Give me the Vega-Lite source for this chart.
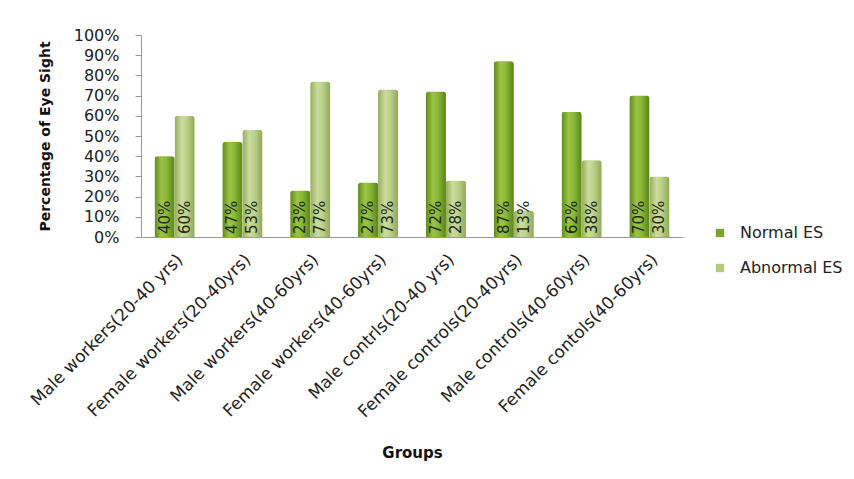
{
  "$schema": "https://vega.github.io/schema/vega-lite/v6.json",
  "autosize": "none",
  "width": 542,
  "height": 202,
  "padding": {"left": 141, "top": 35, "right": 171, "bottom": 242},
  "background": "white",
  "config": {
    "view": {"stroke": null},
    "font": "DejaVu Sans",
    "axis": {"labelFont": "DejaVu Sans", "titleFont": "DejaVu Sans", "labelColor": "#222", "titleColor": "#111"},
    "legend": {"labelFont": "DejaVu Sans"}
  },
  "data": {
    "values": [
      {"group": "Male workers(20-40 yrs)", "series": "Normal ES", "value": 40},
      {"group": "Male workers(20-40 yrs)", "series": "Abnormal ES", "value": 60},
      {"group": "Female workers(20-40yrs)", "series": "Normal ES", "value": 47},
      {"group": "Female workers(20-40yrs)", "series": "Abnormal ES", "value": 53},
      {"group": "Male workers(40-60yrs)", "series": "Normal ES", "value": 23},
      {"group": "Male workers(40-60yrs)", "series": "Abnormal ES", "value": 77},
      {"group": "Female workers(40-60yrs)", "series": "Normal ES", "value": 27},
      {"group": "Female workers(40-60yrs)", "series": "Abnormal ES", "value": 73},
      {"group": "Male contrls(20-40 yrs)", "series": "Normal ES", "value": 72},
      {"group": "Male contrls(20-40 yrs)", "series": "Abnormal ES", "value": 28},
      {"group": "Female controls(20-40yrs)", "series": "Normal ES", "value": 87},
      {"group": "Female controls(20-40yrs)", "series": "Abnormal ES", "value": 13},
      {"group": "Male controls(40-60yrs)", "series": "Normal ES", "value": 62},
      {"group": "Male controls(40-60yrs)", "series": "Abnormal ES", "value": 38},
      {"group": "Female contols(40-60yrs)", "series": "Normal ES", "value": 70},
      {"group": "Female contols(40-60yrs)", "series": "Abnormal ES", "value": 30}
    ]
  },
  "encoding": {
    "x": {
      "field": "group", "type": "nominal", "sort": null,
      "scale": {"paddingInner": 0.41, "paddingOuter": 0.2},
      "axis": {
        "title": "Groups", "titleFontSize": 15, "titleFontWeight": "bold", "titlePadding": 25,
        "labelAngle": -45, "labelFontSize": 17, "labelPadding": 14,
        "domainColor": "#999", "ticks": false, "labelLimit": 400
      }
    },
    "xOffset": {"field": "series", "type": "nominal", "sort": ["Normal ES", "Abnormal ES"]},
    "y": {
      "field": "value", "type": "quantitative",
      "scale": {"domain": [0, 100]},
      "axis": {
        "title": "Percentage of Eye Sight", "titleFontSize": 14, "titleFontWeight": "bold", "titlePadding": 21,
        "values": [0, 10, 20, 30, 40, 50, 60, 70, 80, 90, 100],
        "labelExpr": "datum.value + '%'", "labelFontSize": 16, "labelPadding": 16,
        "grid": false, "domainColor": "#999", "tickColor": "#999", "tickSize": 6
      }
    }
  },
  "layer": [
    {
      "mark": {"type": "bar", "cornerRadiusTopLeft": 3, "cornerRadiusTopRight": 3},
      "encoding": {
        "color": {
          "field": "series", "type": "nominal",
          "scale": {"domain": ["Normal ES", "Abnormal ES"], "range": ["#7aa52c", "#b3c97c"]},
          "sort": ["Normal ES", "Abnormal ES"],
          "legend": {
            "title": null, "orient": "none", "legendX": 571, "legendY": 190,
            "labelFontSize": 16, "labelColor": "#222", "symbolType": "square", "symbolSize": 70,
            "rowPadding": 19, "labelOffset": 12
          }
        }
      }
    },
    {
      "transform": [{"filter": "datum.series == 'Normal ES'"}],
      "mark": {"type": "bar", "cornerRadiusTopLeft": 3, "cornerRadiusTopRight": 3,
        "color": {"gradient": "linear", "x1": 0, "x2": 1, "y1": 0, "y2": 0, "stops": [
          {"offset": 0, "color": "#5f8a1c"}, {"offset": 0.35, "color": "#9cc445"}, {"offset": 0.6, "color": "#8ab838"}, {"offset": 1, "color": "#5a8418"}]}},
      "encoding": {}
    },
    {
      "transform": [{"filter": "datum.series == 'Abnormal ES'"}],
      "mark": {"type": "bar", "cornerRadiusTopLeft": 3, "cornerRadiusTopRight": 3,
        "color": {"gradient": "linear", "x1": 0, "x2": 1, "y1": 0, "y2": 0, "stops": [
          {"offset": 0, "color": "#93ad5c"}, {"offset": 0.35, "color": "#cbdc9e"}, {"offset": 0.6, "color": "#bcd28a"}, {"offset": 1, "color": "#8fa858"}]}},
      "encoding": {}
    },
    {
      "mark": {"type": "text", "angle": -90, "align": "left", "baseline": "middle", "fontSize": 15, "color": "#1e2a10", "dx": 3,
        "text": {"expr": "datum.value + '%'"}},
      "encoding": {
        "y": {"datum": 0},
        "detail": {"field": "series"}
      }
    }
  ]
}
